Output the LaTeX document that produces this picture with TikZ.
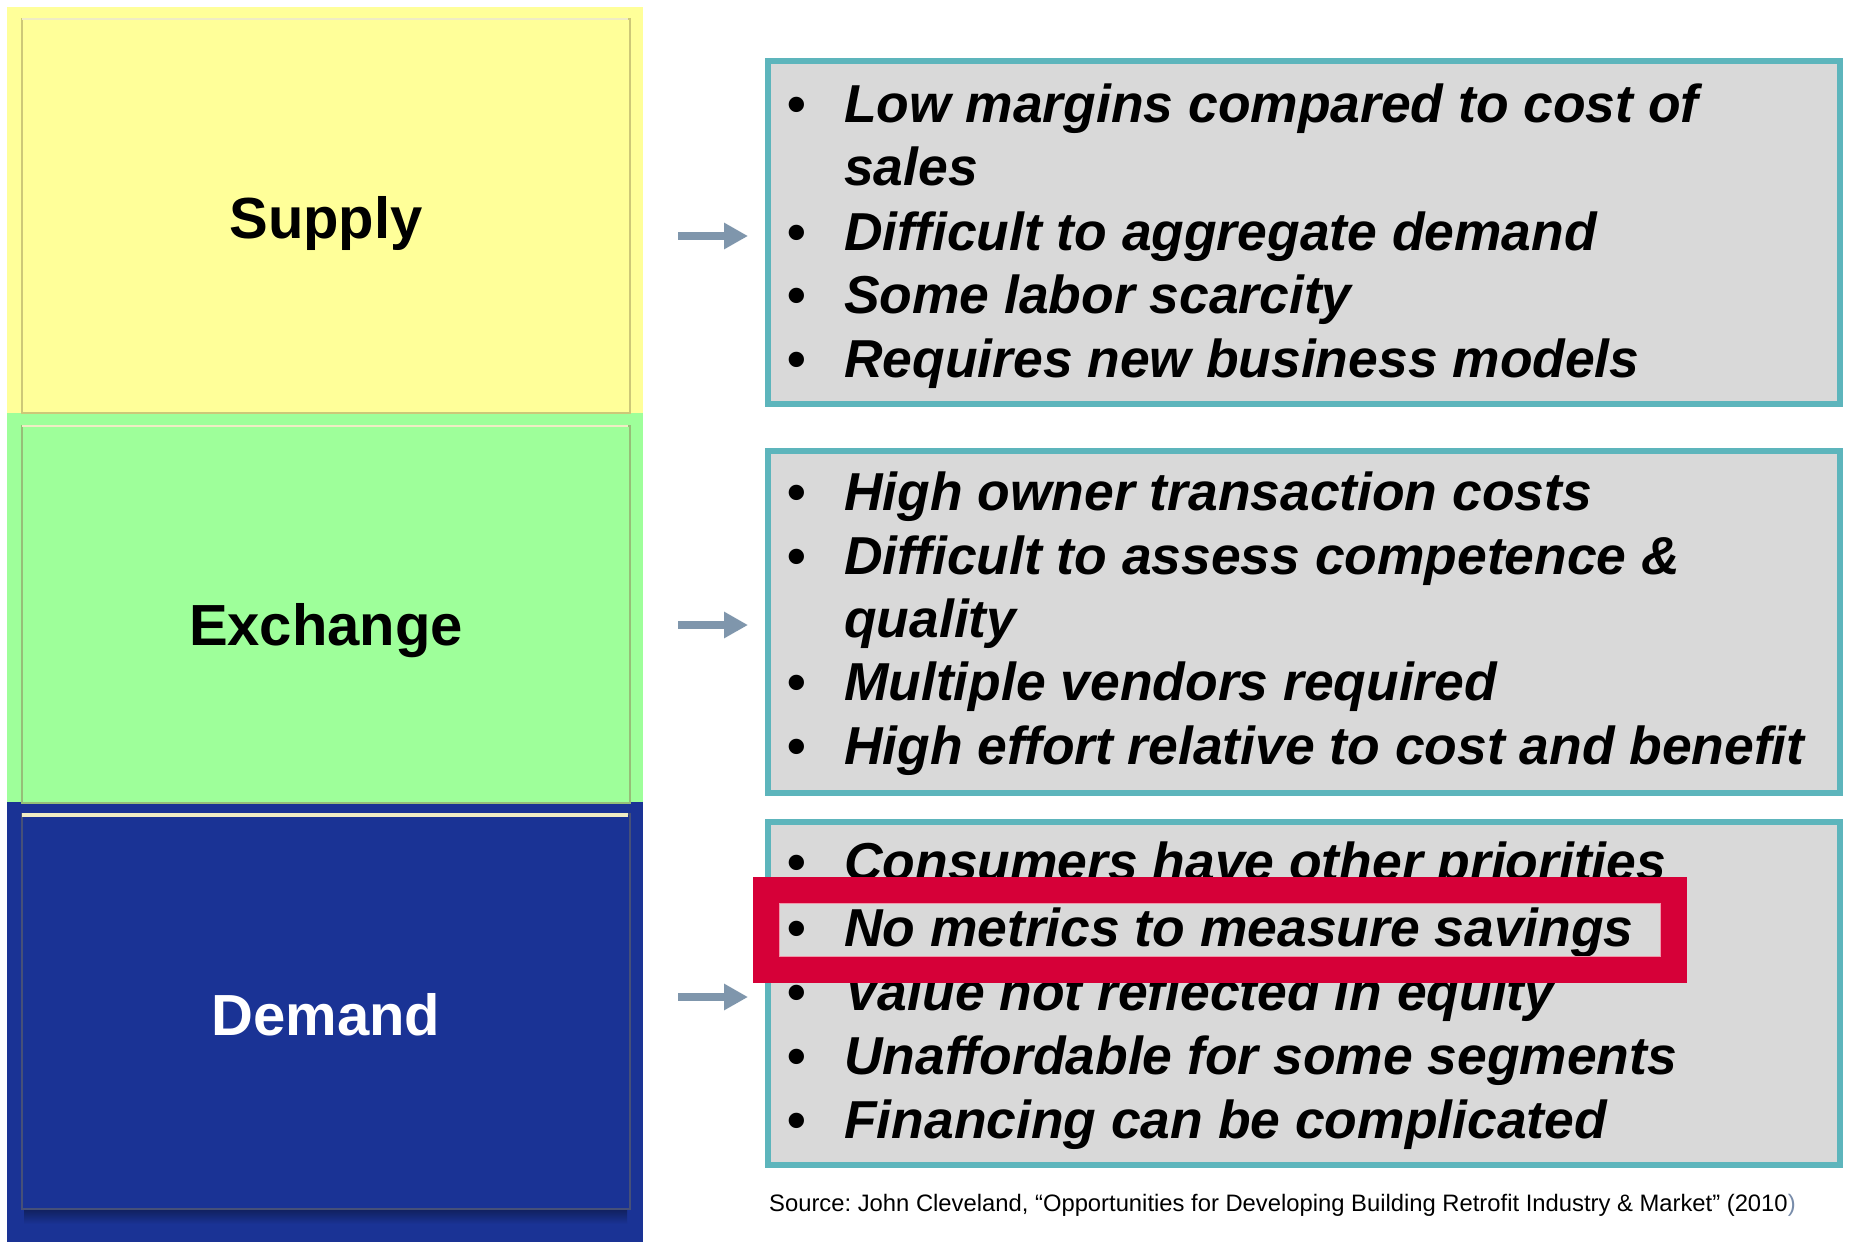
\documentclass[tikz,border=0pt]{standalone}
\usepackage{fontspec}
\setmainfont{Liberation Sans}
\usetikzlibrary{arrows.meta}
\definecolor{bandyellow}{RGB}{255,255,153}
\definecolor{bandgreen}{RGB}{158,255,154}
\definecolor{bandblue}{RGB}{26,51,149}
\definecolor{edgeyellow}{RGB}{205,200,120}
\definecolor{edgegreen}{RGB}{150,190,120}
\definecolor{edgeblue}{RGB}{70,80,120}
\definecolor{cream}{RGB}{240,236,196}
\definecolor{teal}{RGB}{93,181,188}
\definecolor{boxgray}{RGB}{217,217,217}
\definecolor{arrowgray}{RGB}{127,150,172}
\definecolor{hired}{RGB}{214,0,56}
\definecolor{pinkedge}{RGB}{240,150,170}
\definecolor{parengray}{RGB}{120,140,170}
\tikzset{
  band/.style={fill=#1, draw=none},
  innerbox/.style={draw=#1, line width=1.5pt},
  listbox/.style={draw=teal, fill=boxgray, line width=6pt},
  catlabel/.style={font=\fontsize{58}{60}\selectfont\bfseries, anchor=base, inner sep=0pt},
  bulletmark/.style={font=\fontsize{53.4}{64}\selectfont\bfseries, anchor=base, inner sep=0pt},
  itemtext/.style={font=\fontsize{53.4}{64}\selectfont\bfseries\itshape, anchor=base west, inner sep=0pt},
  pointer/.style={draw=arrowgray, line width=8pt, -{Triangle[length=24pt,width=25pt]}},
  sourcetext/.style={font=\fontsize{23.8}{26}\selectfont\frenchspacing, anchor=base west, inner sep=0pt}
}
\begin{document}
\begin{tikzpicture}[x=1pt,y=-1pt]
\useasboundingbox (0,0) rectangle (1850,1242);
\fill[white] (0,0) rectangle (1850,1242);

% left bands
\fill[bandyellow] (7,7) rectangle (643,413);
\fill[bandgreen] (7,413) rectangle (643,802);
\fill[bandblue] (7,802) rectangle (643,1242);

% inner boxes
\node[innerbox=edgeyellow, fill=bandyellow, minimum width=608pt, minimum height=394pt, anchor=north west, inner sep=0pt] (supplybox) at (21,18) {};
\draw[cream, line width=2pt] (22,19) -- (628,19);
\node[innerbox=edgegreen, fill=bandgreen, minimum width=608pt, minimum height=377pt, anchor=north west, inner sep=0pt] (exchangebox) at (21,425) {};
\draw[cream, line width=2.5pt] (22,426) -- (628,426);
\shade[top color=bandblue!60!black, bottom color=bandblue] (24,1208) rectangle (627,1224);
\node[innerbox=edgeblue, fill=bandblue, minimum width=608pt, minimum height=395pt, anchor=north west, inner sep=0pt] (demandbox) at (21,813) {};
\draw[cream, line width=4pt] (22,815) -- (628,815);

\node[catlabel] (supply) at (326,238) {Supply};
\node[catlabel] (exchange) at (326,645) {Exchange};
\node[catlabel, text=white] (demand) at (326,1035) {Demand};

% right list boxes
\draw[listbox] (768,61) rectangle (1840,404);
\draw[listbox] (768,451) rectangle (1840,793);
\draw[listbox] (768,822) rectangle (1840,1165);

% arrows
\coordinate (a1s) at (678,236); \coordinate (a1e) at (748,236);
\coordinate (a2s) at (678,625); \coordinate (a2e) at (748,625);
\coordinate (a3s) at (678,997); \coordinate (a3e) at (748,997);
\draw[pointer] (a1s) -- (a1e);
\draw[pointer] (a2s) -- (a2e);
\draw[pointer] (a3s) -- (a3e);

% box 1
\node[bulletmark] (b11) at (797,122) {•};
\node[itemtext] (t11) at (844,122) {Low margins compared to cost of};
\node[itemtext] (t11b) at (844,185) {sales};
\node[bulletmark] (b12) at (797,250) {•};
\node[itemtext] (t12) at (844,250) {Difficult to aggregate demand};
\node[bulletmark] (b13) at (797,313) {•};
\node[itemtext] (t13) at (844,313) {Some labor scarcity};
\node[bulletmark] (b14) at (797,377) {•};
\node[itemtext] (t14) at (844,377) {Requires new business models};

% box 2
\node[bulletmark] (b21) at (797,510) {•};
\node[itemtext] (t21) at (844,510) {High owner transaction costs};
\node[bulletmark] (b22) at (797,574) {•};
\node[itemtext] (t22) at (844,574) {Difficult to assess competence \&};
\node[itemtext] (t22b) at (844,637) {quality};
\node[bulletmark] (b23) at (797,700) {•};
\node[itemtext] (t23) at (844,700) {Multiple vendors required};
\node[bulletmark] (b24) at (797,764) {•};
\node[itemtext] (t24) at (844,764) {High effort relative to cost and benefit};

% box 3
\node[bulletmark] (b31) at (797,880) {•};
\node[itemtext] (t31) at (844,880) {Consumers have other priorities};
\node[bulletmark] (b32) at (797,946) {•};
\node[itemtext] (t32) at (844,946) {No metrics to measure savings};
\node[bulletmark] (b33) at (797,1010) {•};
\node[itemtext] (t33) at (844,1010) {Value not reflected in equity};
\node[bulletmark] (b34) at (797,1074) {•};
\node[itemtext] (t34) at (844,1074) {Unaffordable for some segments};
\node[bulletmark] (b35) at (797,1138) {•};
\node[itemtext] (t35) at (844,1138) {Financing can be complicated};

% red highlight frame
\draw[hired, line width=26pt] (766,890) rectangle (1673.5,969.5);
\draw[pinkedge, line width=1pt] (779,903) rectangle (1660.5,956.5);

% source
\node[sourcetext] (source) at (769,1211) {Source: John Cleveland, “Opportunities for Developing Building Retrofit Industry \& Market” (2010\textcolor{parengray}{)}};
\end{tikzpicture}
\end{document}
